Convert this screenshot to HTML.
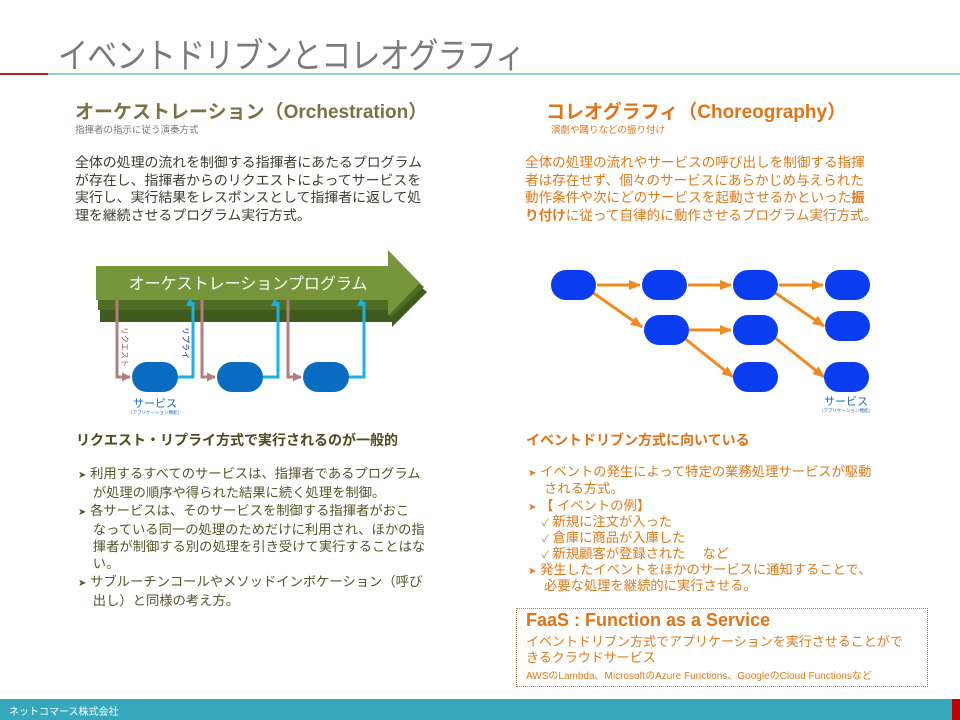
<!DOCTYPE html>
<html><head><meta charset="utf-8"><style>
body{margin:0;width:960px;height:720px;position:relative;overflow:hidden;background:#fff;font-family:"Liberation Sans","Noto Sans CJK JP",sans-serif;}
.a{position:absolute;white-space:nowrap;}
.p{font-size:13.3px;line-height:17.5px;}
.r{position:absolute;white-space:nowrap;font-size:13.3px;line-height:16px;color:#e07a1a;height:16px;overflow:visible;}
</style></head><body>
<div class="a" style="left:58px;top:28px;font-size:35px;color:#7a7a7a;letter-spacing:-1px;transform:scaleX(0.86);transform-origin:0 0;">イベントドリブンとコレオグラフィ</div>
<div class="a" style="left:0;top:73px;width:48px;height:2px;background:#b02020;"></div>
<div class="a" style="left:48px;top:73px;width:912px;height:2px;background:#8fd0d8;"></div>

<div class="a" style="left:75px;top:97px;font-size:19px;font-weight:bold;color:#7a7245;">オーケストレーション（Orchestration）</div>
<div class="a" style="left:75px;top:122px;font-size:9.5px;color:#777;">指揮者の指示に従う演奏方式</div>
<div class="a" style="left:546px;top:97px;font-size:19px;font-weight:bold;color:#e07318;">コレオグラフィ（Choreography）</div>
<div class="a" style="left:551px;top:122px;font-size:9.5px;color:#e07318;">演劇や踊りなどの振り付け</div>

<div class="a p" style="left:75px;top:154px;color:#404030;font-size:13.9px;">全体の処理の流れを制御する指揮者にあたるプログラム<br>が存在し、指揮者からのリクエストによってサービスを<br>実行し、実行結果をレスポンスとして指揮者に返して処<br>理を継続させるプログラム実行方式。</div>
<div class="a p" style="left:525px;top:154px;color:#e07a1a;font-size:13.6px;">全体の処理の流れやサービスの呼び出しを制御する指揮<br>者は存在せず、個々のサービスにあらかじめ与えられた<br>動作条件や次にどのサービスを起動させるかといった<b>振</b><br><b>り付け</b>に従って自律的に動作させるプログラム実行方式。</div>

<svg class="a" style="left:0;top:0" width="960" height="720">
<defs>
<marker id="ao" markerUnits="userSpaceOnUse" markerWidth="12" markerHeight="12" refX="11" refY="6" orient="auto"><path d="M0,1L12,6L0,11z" fill="#f08a20"/></marker>
<marker id="ab" markerUnits="userSpaceOnUse" markerWidth="8" markerHeight="8" refX="4" refY="7" orient="auto"><path d="M0,0L8,4L0,8z" fill="#1ab0e8"/></marker>
<marker id="ar" markerUnits="userSpaceOnUse" markerWidth="9" markerHeight="9" refX="8" refY="4.5" orient="auto"><path d="M0,0L9,4.5L0,9z" fill="#b08080"/></marker>
</defs>
<polygon points="100,275 392,275 392,262 427,292 392,327 392,322 100,322" fill="#3e5a1c"/>
<polygon points="98,270 390,270 390,257 424,287 390,318 390,310 98,310" fill="#4f6e24"/>
<polygon points="96,266 388,266 388,250 420,283 388,316 388,300 96,300" fill="#77953a"/>
<text x="248" y="289" font-size="16" fill="#fff" text-anchor="middle" font-family="Liberation Sans,Noto Sans CJK JP,sans-serif">オーケストレーションプログラム</text>
<g fill="none" stroke-width="3">
<path d="M117,300V377H130" stroke="#b08080" marker-end="url(#ar)"/>
<path d="M202,300V377H215" stroke="#b08080" marker-end="url(#ar)"/>
<path d="M288,300V377H301" stroke="#b08080" marker-end="url(#ar)"/>
<path d="M178,377H193V302" stroke="#1ab0e8" marker-end="url(#ab)"/>
<path d="M263,377H278V302" stroke="#1ab0e8" marker-end="url(#ab)"/>
<path d="M349,377H364V302" stroke="#1ab0e8" marker-end="url(#ab)"/>
</g>
<g fill="#0a6cc0">
<rect x="132" y="362" width="46" height="30" rx="15"/>
<rect x="217" y="362" width="46" height="30" rx="15"/>
<rect x="303" y="362" width="46" height="30" rx="15"/>
</g>
<text x="0" y="0" font-size="8" fill="#a05050" transform="translate(122,327) rotate(90)" font-family="Noto Sans CJK JP,sans-serif">リクエスト</text>
<text x="0" y="0" font-size="8" fill="#2020c0" transform="translate(183,327) rotate(90)" font-family="Noto Sans CJK JP,sans-serif">リプライ</text>
<text x="155" y="407" font-size="11" fill="#1a6ac0" text-anchor="middle" font-family="Noto Sans CJK JP,sans-serif">サービス</text>
<text x="155" y="414" font-size="4.5" fill="#1a6ac0" text-anchor="middle" font-family="Noto Sans CJK JP,sans-serif">(アプリケーション機能)</text>

<g stroke="#f08a20" stroke-width="3" fill="none" marker-end="url(#ao)">
<path d="M597,285H640"/><path d="M688,285H731"/><path d="M779,285H823"/>
<path d="M592,292L642,327"/><path d="M689,330H731"/><path d="M683,337L733,377"/>
<path d="M774,292L824,326"/><path d="M774,337L824,377"/>
</g>
<g fill="#0a3cf0">
<rect x="551" y="270" width="45" height="30" rx="15"/>
<rect x="642" y="270" width="45" height="30" rx="15"/>
<rect x="733" y="270" width="45" height="30" rx="15"/>
<rect x="825" y="270" width="45" height="30" rx="15"/>
<rect x="644" y="315" width="45" height="30" rx="15"/>
<rect x="733" y="315" width="45" height="30" rx="15"/>
<rect x="825" y="311" width="45" height="30" rx="15"/>
<rect x="733" y="362" width="45" height="30" rx="15"/>
<rect x="824" y="362" width="45" height="30" rx="15"/>
</g>
<text x="846" y="405" font-size="11" fill="#1a6ac0" text-anchor="middle" font-family="Noto Sans CJK JP,sans-serif">サービス</text>
<text x="846" y="412" font-size="4.5" fill="#1a6ac0" text-anchor="middle" font-family="Noto Sans CJK JP,sans-serif">(アプリケーション機能)</text>
</svg>

<div class="a" style="left:76px;top:430px;font-size:14px;font-weight:bold;color:#4b4b1e;">リクエスト・リプライ方式で実行されるのが一般的</div>
<div class="a p" style="left:78px;top:465px;color:#55552a;line-height:17.3px;">
<span style="font-size:10px">➤</span> 利用するすべてのサービスは、指揮者であるプログラム<br>&nbsp;&nbsp;&nbsp;&nbsp;が処理の順序や得られた結果に続く処理を制御。<br>
<span style="font-size:10px">➤</span> 各サービスは、そのサービスを制御する指揮者がおこ<br>&nbsp;&nbsp;&nbsp;&nbsp;なっている同一の処理のためだけに利用され、ほかの指<br>&nbsp;&nbsp;&nbsp;&nbsp;揮者が制御する別の処理を引き受けて実行することはな<br>&nbsp;&nbsp;&nbsp;&nbsp;い。<br>
<span style="font-size:10px">➤</span> サブルーチンコールやメソッドインボケーション（呼び<br>&nbsp;&nbsp;&nbsp;&nbsp;出し）と同様の考え方。</div>

<div class="a" style="left:526px;top:430px;font-size:14px;font-weight:bold;color:#e07318;">イベントドリブン方式に向いている</div>
<div class="r" style="left:528px;top:464px;"><span style="font-size:10px">➤</span> イベントの発生によって特定の業務処理サービスが駆動</div>
<div class="r" style="left:544px;top:481px;">される方式。</div>
<div class="r" style="left:528px;top:498px;"><span style="font-size:10px">➤</span> 【 イベントの例】</div>
<div class="r" style="left:542px;top:514px;"><span style="font-size:10px">✓</span> 新規に注文が入った</div>
<div class="r" style="left:542px;top:530px;"><span style="font-size:10px">✓</span> 倉庫に商品が入庫した</div>
<div class="r" style="left:542px;top:546px;"><span style="font-size:10px">✓</span> 新規顧客が登録された　 など</div>
<div class="r" style="left:528px;top:562px;"><span style="font-size:10px">➤</span> 発生したイベントをほかのサービスに通知することで、</div>
<div class="r" style="left:544px;top:578px;">必要な処理を継続的に実行させる。</div>

<div class="a" style="left:516px;top:608px;width:410px;height:77px;border:1px dotted #b08050;"></div>
<div class="a" style="left:526px;top:610px;font-size:18px;font-weight:bold;color:#e07318;">FaaS : Function as a Service</div>
<div class="a" style="left:526px;top:634px;font-size:13px;line-height:16px;color:#e07a1a;">イベントドリブン方式でアプリケーションを実行させることがで<br>きるクラウドサービス</div>
<div class="a" style="left:526px;top:667px;font-size:10px;color:#e07a1a;">AWSのLambda、MicrosoftのAzure Functions、GoogleのCloud Functionsなど</div>

<div class="a" style="left:0;top:699px;width:952px;height:21px;background:#35a9bb;"></div>
<div class="a" style="left:952px;top:699px;width:8px;height:21px;background:#c00000;"></div>
<div class="a" style="left:9px;top:703px;font-size:10px;color:#fff;">ネットコマース株式会社</div>
</body></html>
